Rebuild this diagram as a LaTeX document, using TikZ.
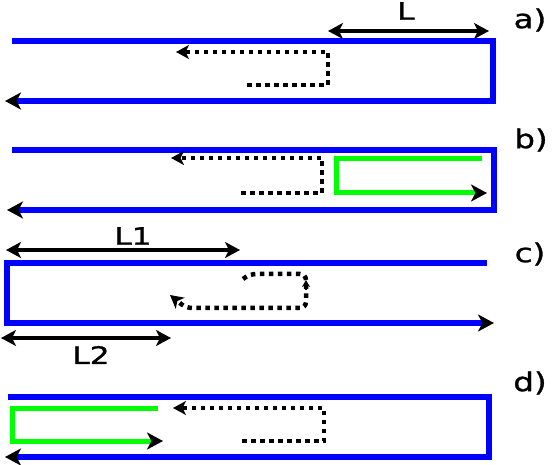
\documentclass[tikz,border=0pt]{standalone}
\usepackage{fontspec}
\setmainfont{DejaVu Sans}[FakeBold=1]
\usetikzlibrary{arrows.meta}
\definecolor{pblue}{RGB}{0,0,255}
\definecolor{pgreen}{RGB}{0,255,0}
\tikzset{
  blueline/.style={draw=pblue,line width=5.5pt},
  greenline/.style={draw=pgreen,line width=5pt},
  tipend/.style={-{Stealth[black,length=16pt,width=17pt,inset=4.5pt]}},
  dimline/.style={draw=black,line width=3.8pt,{Stealth[length=15pt,width=16pt,inset=4pt]}-{Stealth[length=15pt,width=16pt,inset=4pt]}},
  dots/.style={draw=black,line width=4.5pt,dash pattern=on 4.5pt off 4.5pt},
  dottip/.style={-{Stealth[black,length=13pt,width=14pt,inset=3.5pt]}},
  lbl/.style={inner sep=0pt,xscale=1.3,font=\fontsize{24}{28}\selectfont},
  plbl/.style={inner sep=0pt,xscale=1.25,font=\fontsize{26}{30}\selectfont}
}
\begin{document}
\begin{tikzpicture}[x=1pt,y=-1pt]
\useasboundingbox (0,0) rectangle (552,465);
% ---------- a)
\node[plbl] (la) at (530,20) {a)};
\node[lbl] (tL) at (406,11) {L};
\coordinate (La) at (328,31); \coordinate (Lb) at (489,31);
\draw[dimline] (La) -- (Lb);
\coordinate (a1) at (12,41); \coordinate (a2) at (493,41);
\coordinate (a3) at (493,101); \coordinate (a4) at (5,101);
\draw[blueline,tipend] (a1) -- (a2) -- (a3) -- (a4);
\coordinate (ad1) at (247,85); \coordinate (ad2) at (328,85);
\coordinate (ad3) at (328,52); \coordinate (ad4) at (176,52);
\draw[dots,dottip] (ad1) -- (ad2) -- (ad3) -- (ad4);
% ---------- b)
\node[plbl] (lb) at (531,140) {b)};
\coordinate (b1) at (12,150); \coordinate (b2) at (494,150);
\coordinate (b3) at (494,210); \coordinate (b4) at (7,210);
\draw[blueline,tipend] (b1) -- (b2) -- (b3) -- (b4);
\coordinate (bg1) at (482,159); \coordinate (bg2) at (336,159);
\coordinate (bg3) at (336,193); \coordinate (bg4) at (487,193);
\draw[greenline,tipend] (bg1) -- (bg2) -- (bg3) -- (bg4);
\coordinate (bd1) at (241,193); \coordinate (bd2) at (322,193);
\coordinate (bd3) at (322,158); \coordinate (bd4) at (171,158);
\draw[dots,dottip] (bd1) -- (bd2) -- (bd3) -- (bd4);
% ---------- c)
\node[plbl] (lc) at (530,254) {c)};
\node[lbl] (tL1) at (133,236) {L1};
\coordinate (L1a) at (6,250); \coordinate (L1b) at (240,250);
\draw[dimline] (L1a) -- (L1b);
\node[lbl] (tL2) at (91,355) {L2};
\coordinate (L2a) at (1,338); \coordinate (L2b) at (171,338);
\draw[dimline] (L2a) -- (L2b);
\coordinate (c1) at (487,263); \coordinate (c2) at (7,263);
\coordinate (c3) at (7,323); \coordinate (c4) at (494,323);
\draw[blueline,tipend] (c1) -- (c2) -- (c3) -- (c4);
\coordinate (cd1) at (243,279); \coordinate (cd2) at (250,274);
\coordinate (cd3) at (306,274); \coordinate (cd4) at (306,308);
\coordinate (cd5) at (186,308); \coordinate (cd6) at (170,295);
\draw[dots,rounded corners=6pt,dottip] (cd1) -- (cd2) -- (cd3) -- (cd4) -- (cd5) -- (cd6);
\coordinate (cm1) at (306,290); \coordinate (cm2) at (306,280);
\draw[line width=2.5pt,-{Stealth[black,length=7pt,width=8pt]}] (cm1) -- (cm2);
% ---------- d)
\node[plbl] (ld) at (530,383) {d)};
\coordinate (d1) at (8,397); \coordinate (d2) at (489,397);
\coordinate (d3) at (489,457); \coordinate (d4) at (5,457);
\draw[blueline,tipend] (d1) -- (d2) -- (d3) -- (d4);
\coordinate (dg1) at (158,408); \coordinate (dg2) at (12,408);
\coordinate (dg3) at (12,441); \coordinate (dg4) at (163,441);
\draw[greenline,tipend] (dg1) -- (dg2) -- (dg3) -- (dg4);
\coordinate (dd1) at (242,441); \coordinate (dd2) at (324,441);
\coordinate (dd3) at (324,408); \coordinate (dd4) at (173,408);
\draw[dots,dottip] (dd1) -- (dd2) -- (dd3) -- (dd4);
\end{tikzpicture}
\end{document}
